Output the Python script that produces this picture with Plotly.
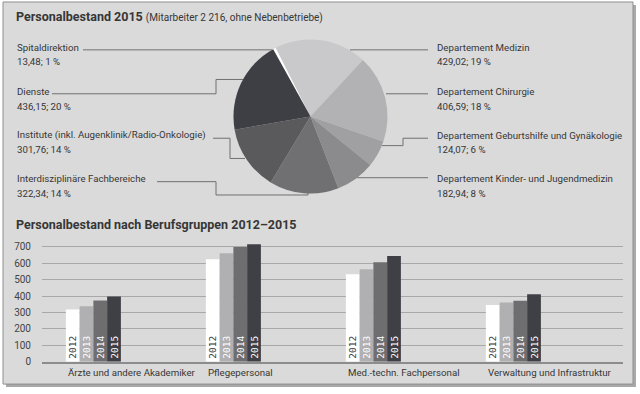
import plotly.graph_objects as go

W, H = 640, 394

# ---------------- data ----------------
pie_labels = ["Spitaldirektion", "Departement Medizin", "Departement Chirurgie",
              "Departement Geburtshilfe und Gynäkologie", "Departement Kinder- und Jugendmedizin",
              "Interdisziplinäre Fachbereiche", "Institute (inkl. Augenklinik/Radio-Onkologie)", "Dienste"]
pie_values = [13.48, 429.02, 406.59, 124.07, 182.94, 322.34, 301.76, 436.15]
pie_value_text = ["13,48; 1 %", "429,02; 19 %", "406,59; 18 %", "124,07; 6 %",
                  "182,94; 8 %", "322,34; 14 %", "301,76; 14 %", "436,15; 20 %"]
pie_colors = ["#ffffff", "#c9c9cb", "#b2b2b4", "#a0a0a2", "#8b8b8d", "#707072", "#5a5a5d", "#3d3f44"]

categories = ["Ärzte und andere Akademiker", "Pflegepersonal",
              "Med.-techn. Fachpersonal", "Verwaltung und Infrastruktur"]
years = ["2012", "2013", "2014", "2015"]
v2012 = [318, 625, 534, 345]
v2013 = [338, 661, 564, 361]
v2014 = [373, 699, 607, 372]
v2015 = [398, 717, 645, 411]
bar_colors = ["#ffffff", "#b0b0b2", "#6e6e71", "#3e4045"]
y_ticks = [0, 100, 200, 300, 400, 500, 600, 700]

FONT = "Roboto"
TXT = "#363636"
LINE = "#707070"
FS = 9.7

def px(x):
    return x / W

def py(y):
    return 1 - y / H

fig = go.Figure()

# ---------------- pie ----------------
cx, cy, r = 310.5, 118, 78
fig.add_trace(go.Pie(
    labels=pie_labels, values=pie_values, sort=False, direction="clockwise",
    rotation=-29, textinfo="none", hoverinfo="label+value+percent",
    marker=dict(colors=pie_colors, line=dict(width=0)),
    domain=dict(x=[px(cx - r), px(cx + r)], y=[py(cy + r), py(cy - r)]),
    showlegend=False,
))

# ---------------- bars ----------------
for yr, vals, col in zip(years, [v2012, v2013, v2014, v2015], bar_colors):
    fig.add_trace(go.Bar(
        x=categories, y=vals, name=yr, marker=dict(color=col, line=dict(width=0)),
        text=[yr] * len(categories), textposition="inside", insidetextanchor="start",
        textangle=-90, constraintext="none",
        textfont=dict(family="DejaVu Sans Mono", size=9.5,
                      color=TXT if yr == "2012" else "#ffffff"),
        showlegend=False, cliponaxis=False,
    ))

ax_left, ax_right = 42, 623
y0_pix, unit = 366.3, 0.166
ymax = 750
fig.update_layout(
    barmode="group", bargap=0.607, bargroupgap=0,
    xaxis=dict(domain=[px(ax_left), px(ax_right)], range=[-0.367, 3.783],
               showticklabels=False, showgrid=False, zeroline=False,
               showline=True, linecolor="#8c8c8c", linewidth=2, ticks=""),
    yaxis=dict(domain=[py(y0_pix), py(y0_pix - ymax * unit)], range=[0, ymax],
               tickvals=y_ticks, showgrid=True, gridcolor="#a8a8a8", gridwidth=1,
               zeroline=False, showline=False, ticks="outside", ticklen=8,
               tickcolor="rgba(0,0,0,0)",
               tickfont=dict(family=FONT, size=10, color="#444444")),
)

annotations = []
# category labels (left aligned under each group)
for c in categories:
    annotations.append(dict(x=c, xref="x", xshift=-27.5, y=py(377), yref="paper",
                            text=c, showarrow=False, xanchor="left", yanchor="middle",
                            font=dict(family=FONT, size=FS, color=TXT)))

# titles
annotations.append(dict(x=px(14), y=py(17), xref="paper", yref="paper", showarrow=False,
                        xanchor="left", yanchor="middle",
                        text="<b>Personalbestand 2015</b> <span style='font-size:10px'>(Mitarbeiter 2 216, ohne Nebenbetriebe)</span>",
                        font=dict(family=FONT, size=12.5, color=TXT)))
annotations.append(dict(x=px(14), y=py(227), xref="paper", yref="paper", showarrow=False,
                        xanchor="left", yanchor="middle",
                        text="<b>Personalbestand nach Berufsgruppen 2012–2015</b>",
                        font=dict(family=FONT, size=12.5, color=TXT)))

# pie labels: (index, x, y of name line)
label_pos = {
    0: (15, 48), 7: (15, 93), 6: (15, 137), 5: (15, 181),
    1: (435, 48), 2: (435, 93), 3: (435, 137), 4: (435, 181),
}
for i, (lx, ly) in label_pos.items():
    annotations.append(dict(x=px(lx), y=py(ly), xref="paper", yref="paper", showarrow=False,
                            xanchor="left", yanchor="middle", text=pie_labels[i],
                            font=dict(family=FONT, size=FS, color=TXT)))
    annotations.append(dict(x=px(lx), y=py(ly + 14.5), xref="paper", yref="paper", showarrow=False,
                            xanchor="left", yanchor="middle", text=pie_value_text[i],
                            font=dict(family=FONT, size=FS, color=TXT)))

fig.update_layout(annotations=annotations)

# ---------------- decoration shapes ----------------
shapes = []
shapes.append(dict(type="rect", xref="paper", yref="paper", layer="below",
                   x0=px(6), x1=px(636), y0=py(392), y1=py(5),
                   fillcolor="#a9a9a9", line=dict(width=0)))
shapes.append(dict(type="rect", xref="paper", yref="paper", layer="below",
                   x0=px(3), x1=px(633), y0=py(389), y1=py(2),
                   fillcolor="#dadada", line=dict(color="#8f8f8f", width=1)))

def path(points):
    s = "M " + " L ".join(f"{px(x):.5f},{py(y):.5f}" for x, y in points)
    return dict(type="path", xref="paper", yref="paper", path=s,
                line=dict(color=LINE, width=1), layer="above")

leaders = [
    [(83, 50.5), (272, 50.5)],                                  # Spitaldirektion
    [(52, 95), (216, 95), (216, 80.5), (243, 80.5)],            # Dienste
    [(213, 140), (230, 140), (230, 160.5), (245, 160.5)],       # Institute
    [(157, 184), (216, 184), (216, 197.5), (308, 197.5), (308, 195)],  # Interdisziplinär
    [(350, 50.5), (428, 50.5)],                                 # Medizin
    [(386, 95), (428, 95)],                                     # Chirurgie
    [(382, 147.5), (403, 147.5), (403, 140), (428, 140)],       # Geburtshilfe
    [(357, 180), (428, 180)],                                   # Kinder
]
for pts in leaders:
    shapes.append(path(pts))

fig.update_layout(
    shapes=shapes,
    width=W, height=H,
    margin=dict(l=0, r=0, t=0, b=0),
    paper_bgcolor="#ffffff", plot_bgcolor="rgba(0,0,0,0)",
    font=dict(family=FONT, color=TXT),
)

fig.write_html("out.html", config={"displayModeBar": False},
               post_script="document.body.style.margin='0';document.body.style.overflow='hidden';")
